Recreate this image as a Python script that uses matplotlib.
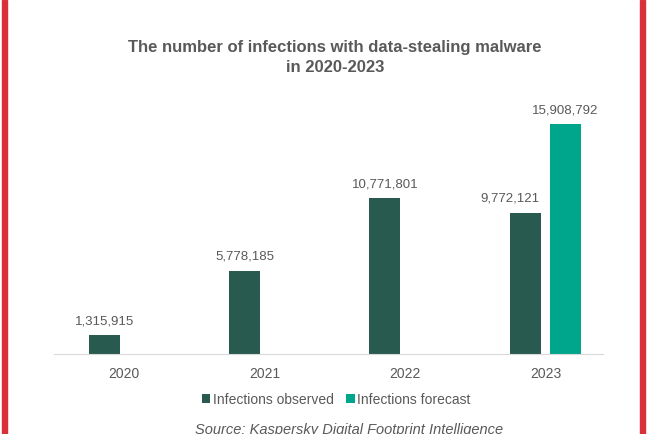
import numpy as np
import matplotlib
matplotlib.use("Agg")
import matplotlib.pyplot as plt
from matplotlib.patches import Rectangle

years = ["2020", "2021", "2022", "2023"]
observed = [1315915, 5778185, 10771801, 9772121]
forecast = [None, None, None, 15908792]

c_obs = "#285a50"
c_fc = "#00a68c"
grey = "#595959"

plt.rcParams["font.family"] = ["Liberation Sans", "DejaVu Sans"]

fig = plt.figure(figsize=(6.5, 4.34), dpi=100)
ax = fig.add_axes([54 / 650, 80 / 434, 549 / 650, 260 / 434])

x = np.arange(len(years))
w = 0.22
off = 0.143

obs_bars = ax.bar(x - off, observed, w, color=c_obs, label="Infections observed")
fx = [xi + off for xi, v in zip(x, forecast) if v is not None]
fv = [v for v in forecast if v is not None]
fc_bars = ax.bar(fx, fv, w, color=c_fc, label="Infections forecast")

for i, (b, v) in enumerate(zip(obs_bars, observed)):
    cx = b.get_x() + b.get_width() / 2
    if forecast[i] is not None:
        cx -= 0.11  # keep clear of the forecast bar
    ax.text(cx, v + 550000, f"{v:,}",
            ha="center", va="bottom", fontsize=9.5, color=grey)
for b, v in zip(fc_bars, fv):
    ax.text(b.get_x() + b.get_width() / 2, v + 550000, f"{v:,}",
            ha="center", va="bottom", fontsize=9.5, color=grey)

ax.set_xlim(-0.5, 3.41)
ax.set_ylim(0, 18000000)
ax.set_xticks(x)
ax.set_xticklabels(years, fontsize=10, color=grey)
ax.tick_params(axis="x", length=0, pad=9)
ax.set_yticks([])
for s in ["top", "right", "left"]:
    ax.spines[s].set_visible(False)
ax.spines["bottom"].set_color("#d9d9d9")

fig.text(335 / 650, 1 - 40 / 434,
         "The number of infections with data-stealing malware\nin 2020-2023",
         ha="center", va="top", fontsize=12, fontweight="bold", color=grey,
         linespacing=1.4)

ax.legend(loc="upper center", bbox_to_anchor=(0.514, -0.1), ncol=2, frameon=False,
          fontsize=10, handlelength=0.6, handleheight=0.6, handletextpad=0.2,
          columnspacing=0.9, labelcolor=grey)

fig.text(349 / 650, 1 - 423 / 434, "Source: Kaspersky Digital Footprint Intelligence",
         ha="center", va="top", fontsize=10.5, style="italic", color=grey)

# red frame on left and right
fig.patches.append(Rectangle((2 / 650, 0), 5 / 650, 1, transform=fig.transFigure,
                             color="#d8313c", zorder=10))
fig.patches.append(Rectangle((640 / 650, 0), 5 / 650, 1, transform=fig.transFigure,
                             color="#d8313c", zorder=10))

fig.savefig("out.png", dpi=100)
